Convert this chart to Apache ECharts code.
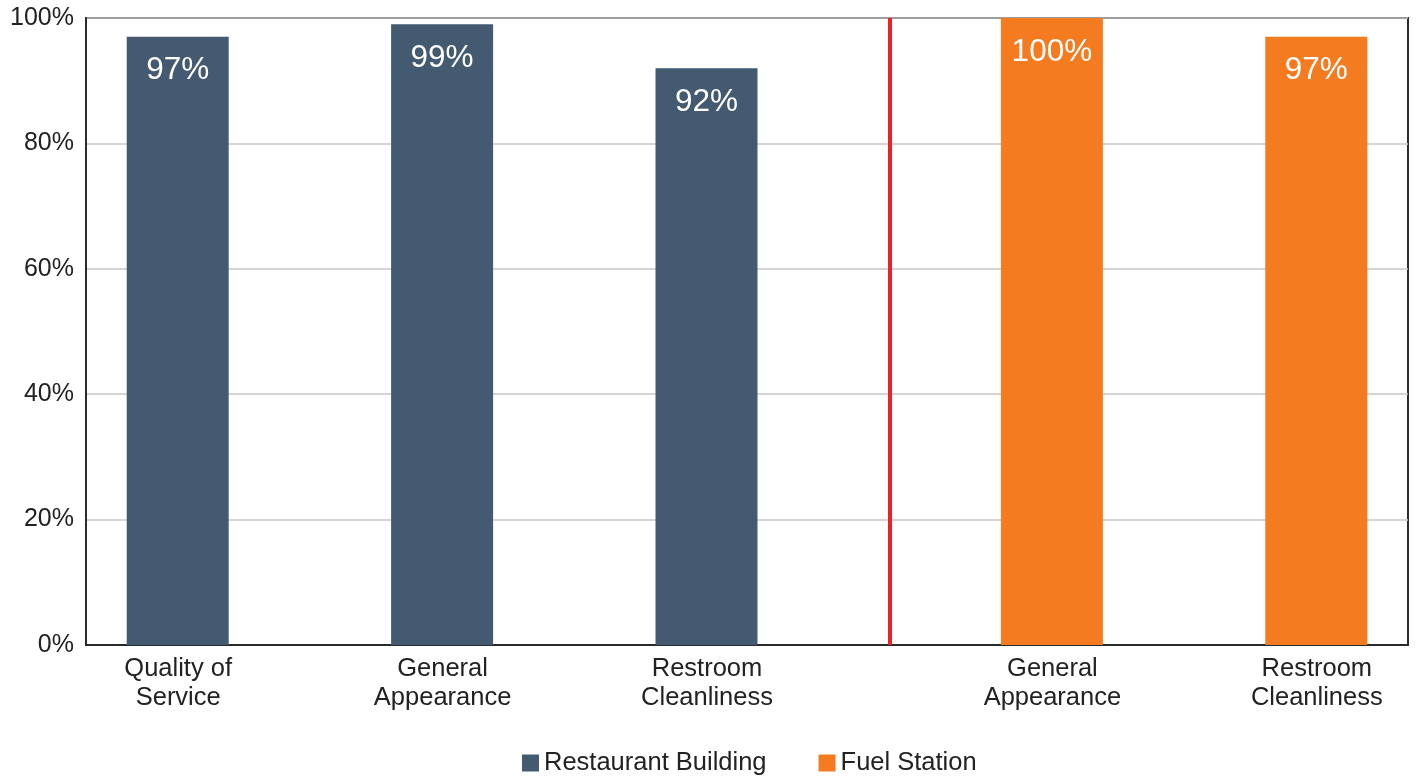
<!DOCTYPE html>
<html>
<head>
<meta charset="utf-8">
<title>Satisfaction by Area</title>
<script src="https://cdn.jsdelivr.net/npm/echarts@6/dist/echarts.min.js"></script>
<style>
  html, body { margin: 0; padding: 0; background: #fff; }
  #chart { width: 1419px; height: 777px; }
</style>
</head>
<body>
<div id="chart"></div>
<script>
// Category labels (two groups: restaurant building, fuel station)
const categories = [
  'Quality of\nService',
  'General\nAppearance',
  'Restroom\nCleanliness',
  'General\nAppearance',
  'Restroom\nCleanliness'
];
// Which group each category belongs to
const groups = ['rest', 'rest', 'rest', 'fuel', 'fuel'];

// Percent satisfied per category
const restaurantValues = [97, 99, 92, null, null];
const fuelValues = [null, null, null, 100, 97];

const yTicks = [0, 20, 40, 60, 80, 100];

// Position of the divider between the two groups, in category units
const dividerPos = 3.045;

const FONT = '"Liberation Sans", Arial, Helvetica, sans-serif';
const BLUE = '#435a70';
const ORANGE = '#f47b20';
const TEXT = '#222';

const chart = echarts.init(document.getElementById('chart'));

const option = {
  animation: false,
  textStyle: { fontFamily: FONT },
  grid: {
    left: 86, right: 11, top: 18, bottom: 132,
    show: true, borderColor: '#2a2a2a', borderWidth: 2, containLabel: false
  },
  legend: {
    left: 517, top: 745,
    itemWidth: 17, itemHeight: 17, itemGap: 52,
    icon: 'rect',
    textStyle: { fontSize: 25.5, color: TEXT, fontFamily: FONT },
    data: ['Restaurant Building', 'Fuel Station']
  },
  xAxis: [
    {
      type: 'category',
      data: categories,
      axisLine: { show: true, lineStyle: { color: '#2a2a2a', width: 2 } },
      axisTick: { show: false },
      splitLine: { show: false },
      axisLabel: {
        interval: 0,
        margin: 9,
        color: TEXT,
        fontSize: 25.5,
        lineHeight: 29,
        fontFamily: FONT,
        formatter: function (value, idx) {
          const tag = groups[idx] === 'rest' ? 'l' : 'r';
          return value.split('\n').map(s => '{' + tag + '|' + s + '}').join('\n');
        },
        rich: {
          l: { fontSize: 25.5, lineHeight: 29, color: TEXT, fontFamily: FONT, padding: [0, 80, 0, 0] },
          r: { fontSize: 25.5, lineHeight: 29, color: TEXT, fontFamily: FONT, padding: [0, 0, 0, 82] }
        }
      }
    },
    {
      type: 'value',
      min: 0, max: 5,
      show: false,
      gridIndex: 0
    }
  ],
  yAxis: {
    type: 'value',
    min: 0, max: 100, interval: 20,
    axisLine: { show: true, lineStyle: { color: '#2a2a2a', width: 2 } },
    axisTick: { show: false },
    splitLine: { show: true, lineStyle: { color: '#c6c6c6', width: 1.5 } },
    axisLabel: {
      color: TEXT, fontSize: 25, margin: 12, fontFamily: FONT,
      verticalAlign: 'middle', padding: [4, 0, 0, 0],
      formatter: v => yTicks.includes(v) ? v + '%' : ''
    }
  },
  series: [
    {
      name: 'Restaurant Building',
      type: 'bar',
      data: restaurantValues,
      barWidth: 102,
      barGap: '-20.6%',
      itemStyle: { color: BLUE },
      label: {
        show: true, position: 'insideTop', distance: 18,
        color: '#fff', fontSize: 31.5, fontFamily: FONT,
        formatter: p => p.value + '%'
      }
    },
    {
      name: 'Fuel Station',
      type: 'bar',
      data: fuelValues,
      barWidth: 102,
      barGap: '-20.6%',
      itemStyle: { color: ORANGE },
      label: {
        show: true, position: 'insideTop', distance: 18,
        color: '#fff', fontSize: 31.5, fontFamily: FONT,
        formatter: p => p.value + '%'
      }
    },
    {
      // Divider between the two groups
      name: 'divider',
      type: 'line',
      xAxisIndex: 1,
      data: [],
      silent: true,
      markLine: {
        silent: true,
        symbol: 'none',
        label: { show: false },
        lineStyle: { color: '#e8232a', width: 4, type: 'solid' },
        data: [{ xAxis: dividerPos }]
      }
    }
  ]
};

chart.setOption(option);
</script>
</body>
</html>
